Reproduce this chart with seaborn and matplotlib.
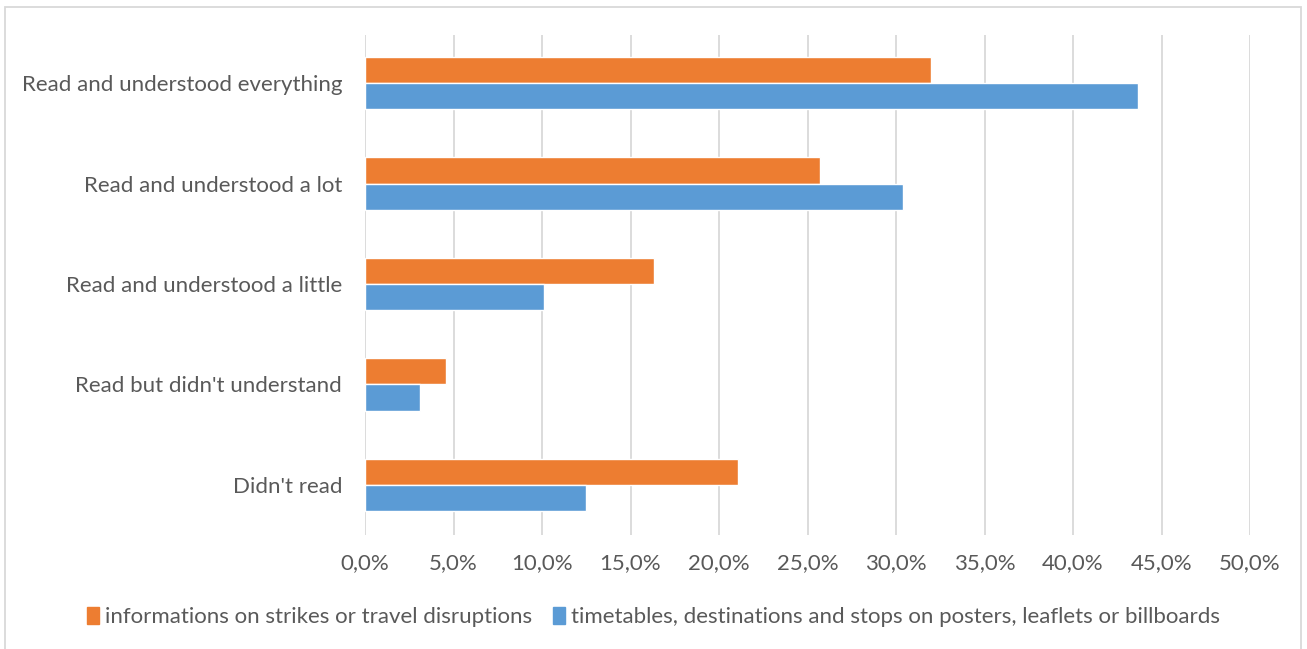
import pandas as pd
import seaborn as sns
import matplotlib.pyplot as plt
from matplotlib.patches import Rectangle
from matplotlib.ticker import FuncFormatter

categories = [
    'Read and understood everything',
    'Read and understood a lot',
    'Read and understood a little',
    "Read but didn't understand",
    "Didn't read",
]
series_names = [
    'informations on strikes or travel disruptions',
    'timetables, destinations and stops on posters, leaflets or billboards',
]
strikes = [0.320, 0.257, 0.163, 0.046, 0.211]
timetables = [0.437, 0.304, 0.101, 0.031, 0.125]
colors = ['#ED7D31', '#5B9BD5']

df = pd.DataFrame({
    'category': categories * 2,
    'series': [series_names[0]] * len(categories) + [series_names[1]] * len(categories),
    'value': strikes + timetables,
})

sns.set_style('white')
plt.rcParams['font.family'] = ['Lato', 'DejaVu Sans']
text_color = '#595959'

fig = plt.figure(figsize=(13.07, 6.49), dpi=100)
ax = fig.add_axes([365 / 1307, 1 - 535 / 649, (1250 - 365) / 1307, (535 - 35) / 649])

sns.barplot(data=df, y='category', x='value', hue='series', order=categories,
            hue_order=series_names, palette=colors, width=0.52, saturation=1,
            orient='h', ax=ax, legend=True)

ax.set_xlim(0, 0.5)
ax.set_ylim(4.5, -0.48)
ax.set_xticks([i * 0.05 for i in range(11)])
ax.xaxis.set_major_formatter(FuncFormatter(lambda v, _: f'{v * 100:.1f}%'.replace('.', ',')))
ax.grid(axis='x', color='#D9D9D9', linewidth=1.3)
ax.set_axisbelow(True)
for s in ax.spines.values():
    s.set_visible(False)
ax.tick_params(axis='both', length=0, labelsize=16, colors=text_color)
ax.tick_params(axis='y', pad=16.5)
ax.tick_params(axis='x', pad=13)
ax.set_xlabel('')
ax.set_ylabel('')

ax.legend_.remove()
handles = [Rectangle((0, 0), 1, 1, color=c) for c in colors]
fig.legend(handles, series_names, loc='center', bbox_to_anchor=(0.5, 1 - 617 / 649),
           ncol=2, frameon=False, fontsize=16, labelcolor=text_color,
           handlelength=0.55, handleheight=0.85, handletextpad=0.3, columnspacing=0.9)

fig.patches.append(Rectangle((5 / 1307, -0.01), 1296 / 1307, 1 - 7 / 649 + 0.01,
                             transform=fig.transFigure, fill=False,
                             edgecolor='#D9D9D9', linewidth=1.3))

plt.savefig('out.png', dpi=100)
